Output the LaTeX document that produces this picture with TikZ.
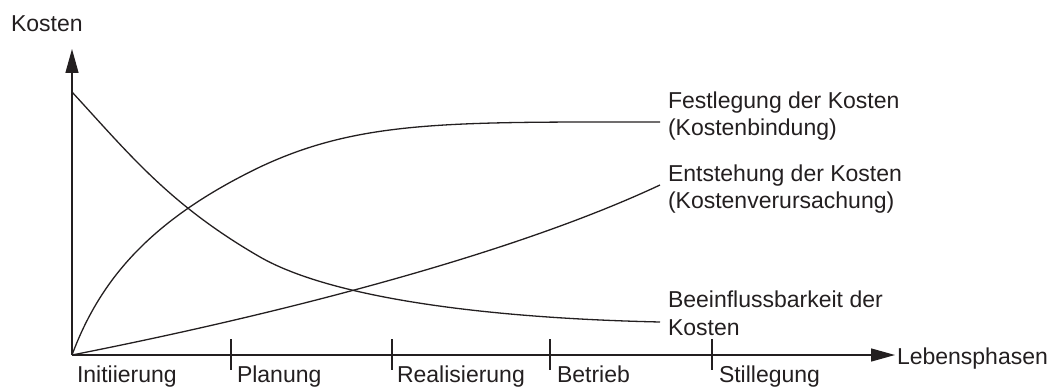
\documentclass[tikz,border=0pt]{standalone}
\usepackage{fontspec}
\setmainfont{Liberation Sans}
\usetikzlibrary{arrows.meta}
\definecolor{ink}{RGB}{35,31,32}
\begin{document}
\begin{tikzpicture}[x=1pt,y=-1pt,
  every node/.style={inner sep=0pt,outer sep=0pt,text=ink,font=\fontsize{23}{27}\selectfont},
  lbl/.style={anchor=base west},
  axisline/.style={draw=ink,line width=1.4pt,-{Triangle[length=24pt,width=13pt]}},
  curve/.style={draw=ink,line width=1.3pt,line join=round},
  tickmark/.style={draw=ink,line width=1.2pt}]
\useasboundingbox (0,0) rectangle (1049,387);
% axes
\coordinate (O) at (72,355);
\coordinate (ytip) at (72,49);
\coordinate (xtip) at (895,355);
\draw[axisline] (O) -- (ytip);
\draw[axisline] (O) -- (xtip);
\node[lbl] (ylab) at (11,32) {Kosten};
\node[anchor=west] (xlab) at ([xshift=2pt,yshift=-4pt]xtip) {Lebensphasen};
% ticks
\foreach \n/\x in {t1/231,t2/392,t3/550,t4/712}{
  \coordinate (\n a) at (\x,339);
  \coordinate (\n b) at (\x,370);
  \draw[tickmark] (\n a) -- (\n b);
}
% phase labels
\node[lbl] (p0) at (77,382) {Initiierung};
\node[lbl] (p1) at (237,382) {Planung};
\node[lbl] (p2) at (397,382) {Realisierung};
\node[lbl] (p3) at (557,382) {Betrieb};
\node[lbl] (p4) at (719,382) {Stillegung};
% curve labels
\node[lbl] (fe1) at (668,109) {Festlegung der Kosten};
\node[lbl] (fe2) at (668,136) {(Kostenbindung)};
\node[lbl] (en1) at (668,182) {Entstehung der Kosten};
\node[lbl] (en2) at (668,209) {(Kostenverursachung)};
\node[lbl] (be1) at (668,308) {Beeinflussbarkeit der};
\node[lbl] (be2) at (668,335) {Kosten};
% curve end points
\coordinate (feM) at (260,167);
\coordinate (feE) at (660,122);
\coordinate (enE) at (660,185);
\coordinate (beS) at (72,92);
\coordinate (beM) at (260,257);
\coordinate (beE) at (660,322);
% Festlegung der Kosten
\draw[curve] (O) .. controls (100,280) and (150,220) .. (feM)
  .. controls (360,120) and (450,122) .. (feE);
% Entstehung der Kosten
\draw[curve] (O) .. controls (250,320) and (500,260) .. (enE);
% Beeinflussbarkeit der Kosten
\draw[curve] (beS) .. controls (130,155) and (170,205) .. (beM)
  .. controls (330,297) and (480,318) .. (beE);
\end{tikzpicture}
\end{document}
